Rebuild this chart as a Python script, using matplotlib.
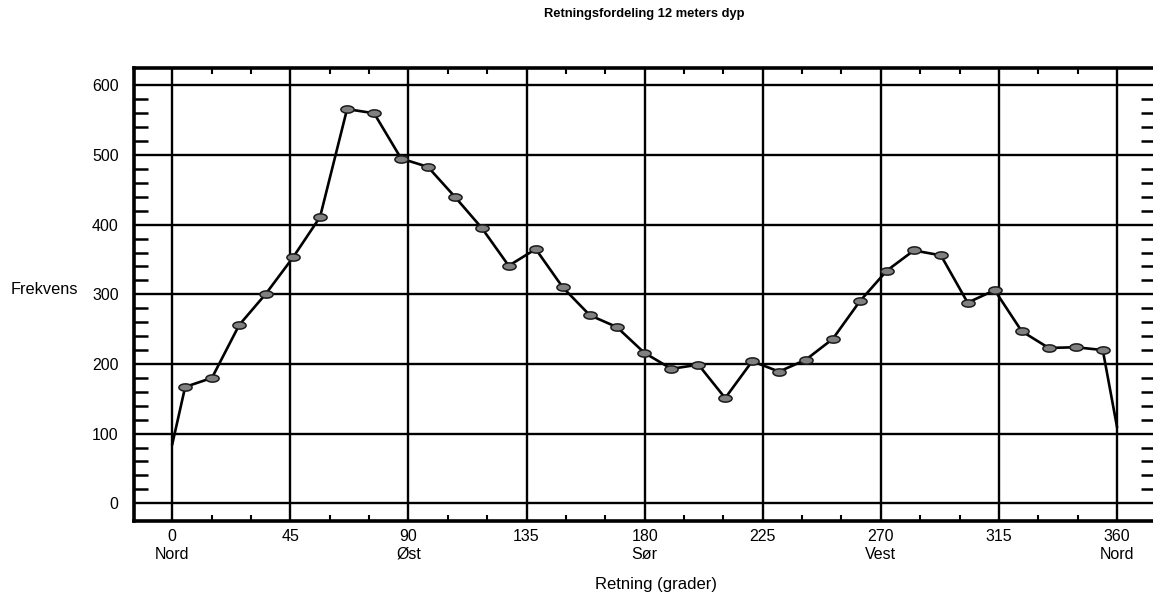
import numpy as np
import matplotlib
matplotlib.use("Agg")
import matplotlib.pyplot as plt
from matplotlib.path import Path
from matplotlib.ticker import FixedLocator

plt.rcParams['font.family'] = ['Liberation Sans', 'DejaVu Sans']

# ---- data ----
title = "Retningsfordeling 12 meters dyp"
x_label = "Retning (grader)"
y_label = "Frekvens"
directions = [4.9, 15.1, 25.5, 35.7, 46.0, 56.3, 66.6, 76.9, 87.2, 97.4,
              107.7, 118.0, 128.2, 138.5, 148.8, 159.1, 169.4, 179.9, 190.2, 200.5,
              210.7, 221.0, 231.2, 241.4, 251.7, 262.0, 272.3, 282.6, 292.9, 303.1,
              313.4, 323.7, 334.0, 344.3, 354.6]
frequency = [167, 180, 256, 301, 353, 411, 566, 560, 495, 483,
             440, 395, 341, 365, 310, 270, 253, 216, 193, 199,
             151, 204, 189, 206, 236, 290, 334, 363, 356, 288,
             306, 247, 223, 224, 220]
start_point = (0, 85)
end_point = (360, 110)
xtick_values = [0, 45, 90, 135, 180, 225, 270, 315, 360]
xtick_labels = ["0\nNord", "45", "90\nØst", "135", "180\nSør", "225", "270\nVest", "315", "360\nNord"]
ytick_values = [0, 100, 200, 300, 400, 500, 600]

# ---- figure ----
fig = plt.figure(figsize=(11.53, 5.96), dpi=100)
ax = fig.add_axes([134/1153, 1 - 521/596, (1155 - 134)/1153, (521 - 68)/596])

# ellipse marker
t = np.linspace(0, 2*np.pi, 40)
verts = np.column_stack([np.cos(t), 0.55*np.sin(t)])
ellipse = Path(verts, closed=True)

line_x = [start_point[0]] + directions + [end_point[0]]
line_y = [start_point[1]] + frequency + [end_point[1]]
ax.plot(line_x, line_y, color='black', lw=1.9, zorder=3, solid_joinstyle='miter')
ax.plot(directions, frequency, linestyle='none', marker=ellipse, markersize=9.5,
        markerfacecolor='#808080', markeredgecolor='#1a1a1a', markeredgewidth=1.1, zorder=4)

ax.set_xlim(-14.6, 374.5)
ax.set_ylim(-25.5, 625)

ax.xaxis.set_major_locator(FixedLocator(xtick_values))
ax.set_xticklabels(xtick_labels)
ax.xaxis.set_minor_locator(FixedLocator([v for v in range(15, 360, 15) if v % 45 != 0]))
ax.yaxis.set_major_locator(FixedLocator(ytick_values))
ax.yaxis.set_minor_locator(FixedLocator([v for v in range(20, 600, 20) if v % 100 != 0]))

ax.grid(True, which='major', color='black', lw=1.7)
ax.set_axisbelow(True)

ax.tick_params(axis='x', which='major', direction='in', length=0, pad=6, labelsize=11.5,
               top=True)
ax.tick_params(axis='x', which='minor', direction='in', length=4, width=1.5, top=True, bottom=True)
ax.tick_params(axis='y', which='major', direction='in', length=0, pad=11, labelsize=11.5,
               right=True)
ax.tick_params(axis='y', which='minor', direction='in', length=10, width=1.8, left=True, right=True)
for lab in ax.get_xticklabels():
    lab.set_linespacing(1.2)

for s in ax.spines.values():
    s.set_linewidth(2.6)

fig.text(644/1153, 1 - 14/596, title, ha='center', va='center', fontsize=9.3, fontweight='bold')
fig.text(11/1153, 1 - 290/596, y_label, ha='left', va='center', fontsize=11.8)
fig.text(656/1153, 1 - 584/596, x_label, ha='center', va='center', fontsize=12)

fig.savefig("out.png", dpi=100)
